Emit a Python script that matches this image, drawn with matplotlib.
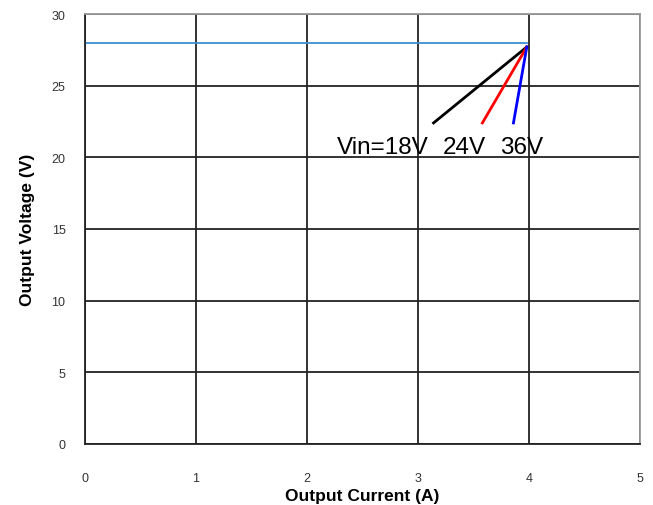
import matplotlib.pyplot as plt

plt.rcParams['font.family'] = ['Liberation Sans', 'DejaVu Sans']

# regulation line (Vout vs Iout)
flat_x = [0, 3.98]
flat_y = [28, 28]

# current-limit foldback lines for each input voltage
vin_labels = ["Vin=18V", "24V", "36V"]
vin_colors = ["black", "red", "blue"]
fold_x = [[3.98, 3.14], [3.98, 3.58], [3.98, 3.86]]
fold_y = [[27.7, 22.4], [27.7, 22.4], [27.7, 22.4]]
label_x = [2.68, 3.42, 3.93]
label_y = [20.7, 20.7, 20.7]

fig = plt.figure(figsize=(6.53, 5.06), dpi=100)
ax = fig.add_axes([85 / 653, 61 / 506, 555 / 653, 430 / 506])

ax.plot(flat_x, flat_y, color="#3d8fd1", lw=1.3)
for xs, ys, c in zip(fold_x, fold_y, vin_colors):
    ax.plot(xs, ys, color=c, lw=2)
for lx, ly, t in zip(label_x, label_y, vin_labels):
    ax.text(lx, ly, t, fontsize=17.5, ha="center", va="center")

ax.set_xlim(0, 5)
ax.set_ylim(0, 30)
ax.set_xticks(range(0, 6))
ax.set_yticks(range(0, 31, 5))
ax.grid(True, color="#222222", lw=1.3)
ax.set_axisbelow(True)
ax.tick_params(length=0, labelsize=9, labelcolor="#333333")
ax.tick_params(axis="x", pad=20)
ax.tick_params(axis="y", pad=14)
for s in ["left", "bottom"]:
    ax.spines[s].set_color("#222222")
    ax.spines[s].set_linewidth(1.3)
for s in ["top", "right"]:
    ax.spines[s].set_color("#999999")
    ax.spines[s].set_linewidth(1.3)

ax.set_xlabel("Output Current (A)", fontsize=12.5, fontweight="bold", labelpad=3)
ax.set_ylabel("Output Voltage (V)", fontsize=12.5, fontweight="bold", labelpad=12)

fig.savefig("out.png", dpi=100)
